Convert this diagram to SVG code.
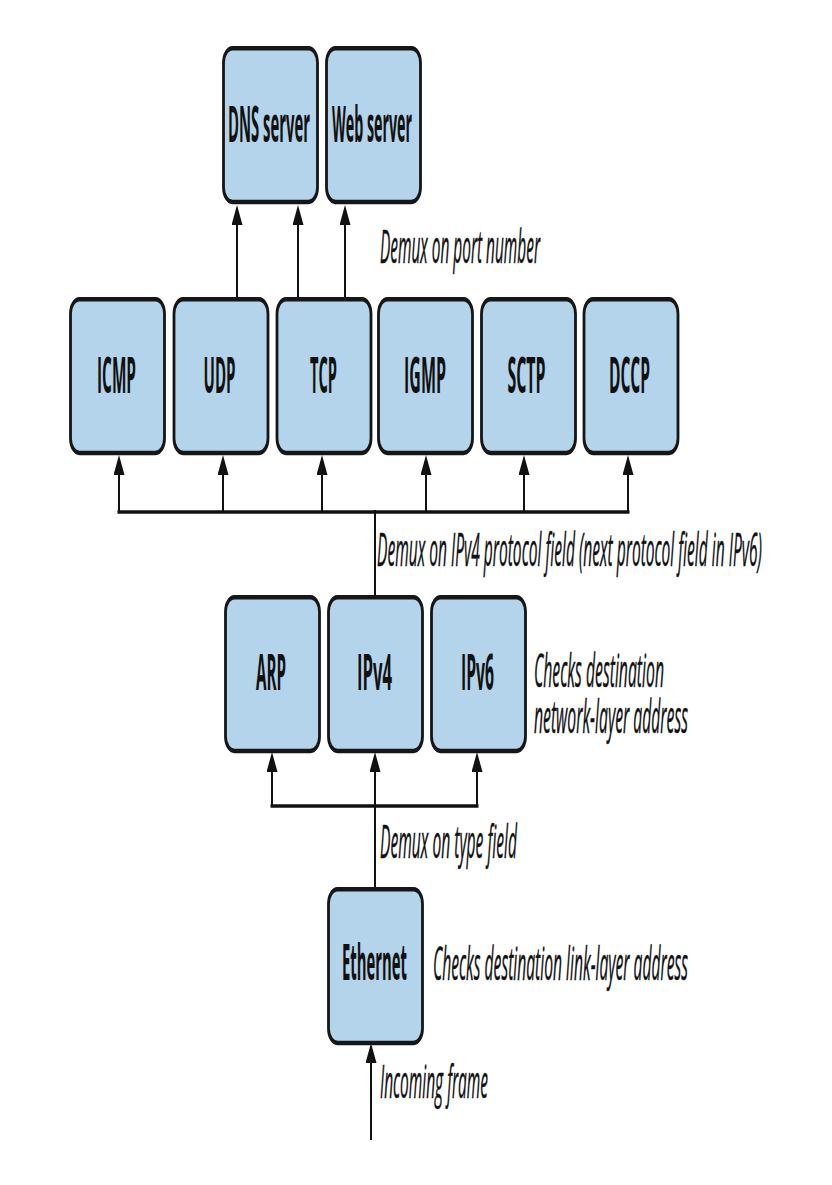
<svg xmlns="http://www.w3.org/2000/svg" xmlns:xlink="http://www.w3.org/1999/xlink" width="832" height="1185" viewBox="0 0 832 1185">
<style>
.box{fill:#b3d4ea;stroke:#161616;stroke-width:2.8}
.lbl{font-family:"Open Sans","Noto Sans","DejaVu Sans",sans-serif;font-weight:700;font-size:17px;fill:#111;text-anchor:middle}
.note{font-family:"Open Sans","Noto Sans","DejaVu Sans",sans-serif;font-style:italic;font-weight:500;font-size:15px;fill:#111;stroke:#111;stroke-width:0.15}
.v{fill:none;stroke:#111;stroke-width:2}
.h{fill:none;stroke:#111;stroke-width:3.6}
.arr{marker-end:url(#ah)}
</style>
<defs>
<rect id="box" class="box" x="0" y="0" width="94" height="96" rx="9" ry="9"/>
<marker id="ah" markerUnits="userSpaceOnUse" markerWidth="20" markerHeight="11" viewBox="0 0 20 11" refX="16" refY="5.5" orient="auto">
<path d="M0,0 L20,5.5 L0,11 z" fill="#111"/>
</marker>
</defs>
<rect width="832" height="1185" fill="#fff"/>

<g id="connectors">
<path class="v arr" d="M237,297 V209"/>
<path class="v arr" d="M298,297 V209"/>
<path class="v arr" d="M345,297 V209"/>
<path class="h" d="M117.5,512 H629.5"/>
<path class="v arr" d="M119,512 V459"/>
<path class="v arr" d="M223,512 V459"/>
<path class="v arr" d="M322,512 V459"/>
<path class="v arr" d="M426,512 V459"/>
<path class="v arr" d="M524,512 V459"/>
<path class="v arr" d="M628,512 V459"/>
<path class="v" d="M375,595 V510"/>
<path class="h" d="M270.5,806 H478.5"/>
<path class="v arr" d="M272,806 V756"/>
<path class="v arr" d="M477,806 V756"/>
<path class="v arr" d="M375,887 V756"/>
<path class="v arr" d="M371,1140 V1047"/>
</g>

<g id="dns-server"><use xlink:href="#box" transform="translate(223.5,48.3) scale(1,1.6)"/><text class="lbl" transform="translate(269,142) scale(1,3)" textLength="82" lengthAdjust="spacingAndGlyphs">DNS server</text></g>
<g id="web-server"><use xlink:href="#box" transform="translate(326.5,48.3) scale(1,1.6)"/><text class="lbl" transform="translate(372,142) scale(1,3)" textLength="80" lengthAdjust="spacingAndGlyphs">Web server</text></g>

<g id="icmp"><use xlink:href="#box" transform="translate(70.5,299.3) scale(1,1.6)"/><text class="lbl" transform="translate(116.5,393) scale(1,3)" textLength="39" lengthAdjust="spacingAndGlyphs">ICMP</text></g>
<g id="udp"><use xlink:href="#box" transform="translate(174,299.3) scale(1,1.6)"/><text class="lbl" transform="translate(219.5,393) scale(1,3)" textLength="32" lengthAdjust="spacingAndGlyphs">UDP</text></g>
<g id="tcp"><use xlink:href="#box" transform="translate(277,299.3) scale(1,1.6)"/><text class="lbl" transform="translate(323.5,393) scale(1,3)" textLength="27" lengthAdjust="spacingAndGlyphs">TCP</text></g>
<g id="igmp"><use xlink:href="#box" transform="translate(378.5,299.3) scale(1,1.6)"/><text class="lbl" transform="translate(425,393) scale(1,3)" textLength="42" lengthAdjust="spacingAndGlyphs">IGMP</text></g>
<g id="sctp"><use xlink:href="#box" transform="translate(481.5,299.3) scale(1,1.6)"/><text class="lbl" transform="translate(526.5,393) scale(1,3)" textLength="38" lengthAdjust="spacingAndGlyphs">SCTP</text></g>
<g id="dccp"><use xlink:href="#box" transform="translate(584,299.3) scale(1,1.6)"/><text class="lbl" transform="translate(629.5,393) scale(1,3)" textLength="41" lengthAdjust="spacingAndGlyphs">DCCP</text></g>

<g id="arp"><use xlink:href="#box" transform="translate(225.5,597.3) scale(1,1.6)"/><text class="lbl" transform="translate(271,690) scale(1,3)" textLength="30" lengthAdjust="spacingAndGlyphs">ARP</text></g>
<g id="ipv4"><use xlink:href="#box" transform="translate(328.5,597.3) scale(1,1.6)"/><text class="lbl" transform="translate(374.5,690) scale(1,3)" textLength="35" lengthAdjust="spacingAndGlyphs">IPv4</text></g>
<g id="ipv6"><use xlink:href="#box" transform="translate(431.5,597.3) scale(1,1.6)"/><text class="lbl" transform="translate(477.5,690) scale(1,3)" textLength="33" lengthAdjust="spacingAndGlyphs">IPv6</text></g>

<g id="ethernet"><use xlink:href="#box" transform="translate(328.5,889.3) scale(1,1.6)"/><text class="lbl" transform="translate(374.5,980) scale(1,3)" textLength="65" lengthAdjust="spacingAndGlyphs">Ethernet</text></g>

<g id="notes">
<text class="note" transform="translate(380,263) scale(1,3.1)" textLength="160" lengthAdjust="spacingAndGlyphs">Demux on port number</text>
<text class="note" transform="translate(377,566) scale(1,3.1)" textLength="385" lengthAdjust="spacingAndGlyphs">Demux on IPv4 protocol field (next protocol field in IPv6)</text>
<text class="note" transform="translate(534,687) scale(1,3.1)" textLength="130" lengthAdjust="spacingAndGlyphs">Checks destination</text>
<text class="note" transform="translate(534,733) scale(1,3.1)" textLength="154" lengthAdjust="spacingAndGlyphs">network-layer address</text>
<text class="note" transform="translate(380,858) scale(1,3.1)" textLength="137" lengthAdjust="spacingAndGlyphs">Demux on type field</text>
<text class="note" transform="translate(433,980) scale(1,3.1)" textLength="255" lengthAdjust="spacingAndGlyphs">Checks destination link-layer address</text>
<text class="note" transform="translate(380,1098) scale(1,3.1)" textLength="108" lengthAdjust="spacingAndGlyphs">Incoming frame</text>
</g>
</svg>
